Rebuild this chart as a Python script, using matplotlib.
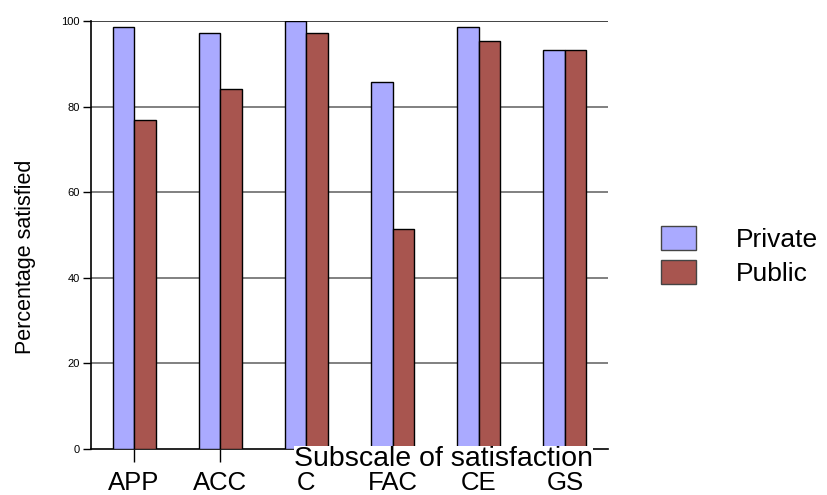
import matplotlib
matplotlib.use("Agg")
import matplotlib.pyplot as plt
import numpy as np
from matplotlib.patches import Patch

categories = ["APP", "ACC", "C", "FAC", "CE", "GS"]
private = [98.6, 97.2, 100.0, 85.7, 98.5, 93.2]
public = [76.8, 84.1, 97.3, 51.4, 95.4, 93.2]
series_names = ["Private", "Public"]
colors = ["#AAAAFF", "#A8554F"]

plt.rcParams['font.family'] = ['Liberation Sans', 'DejaVu Sans']

fig = plt.figure(figsize=(8.28, 4.95), dpi=100)
ax = fig.add_axes([91/828, 1-449/495, (608-91)/828, (449-21)/495])

x = np.arange(len(categories)) + 0.5
w = 0.25
for i, (vals, c) in enumerate(zip([private, public], colors)):
    xs = x - w/2 + i*w
    ax.bar(xs + 0.012, vals, w, color="#777777", zorder=2, linewidth=0)
    ax.bar(xs, vals, w, color=c, edgecolor="black", linewidth=1.0, zorder=3)

ax.set_xlim(0, 6)
ax.set_ylim(0, 100)
ax.set_yticks([0, 20, 40, 60, 80, 100])
ax.set_yticklabels(["0", "20", "40", "60", "80", "100"], fontsize=8)
for yv in [20, 40, 60, 80]:
    ax.axhline(yv, color="#808080", linewidth=1.4, zorder=1)
ax.axhline(100, color="#222222", linewidth=1.2, zorder=1)

ax.set_xticks(x)
ax.set_xticklabels(categories, fontsize=18.5)
ax.tick_params(axis='x', length=9.4, width=1, pad=6.5, direction='out')
ax.tick_params(axis='y', length=6, width=1, pad=2, direction='out')

for s in ["top", "right"]:
    ax.spines[s].set_visible(False)
ax.spines["left"].set_linewidth(1.2)
ax.spines["bottom"].set_linewidth(1.2)

ax.set_ylabel("Percentage satisfied", fontsize=15.5)
ax.yaxis.set_label_coords((36-91)/517, 0.45)

fig.text(443/828, 1-466/495, "Subscale of satisfaction", fontsize=20.5,
         ha="center", va="baseline",
         bbox=dict(facecolor="white", edgecolor="none", pad=0.0), zorder=10)

handles = [Patch(facecolor=c, edgecolor="#444444") for c in colors]
fig.legend(handles, series_names, loc="center left",
           bbox_to_anchor=(637/828, 1-256/495), frameon=False,
           fontsize=19, handlelength=1.35, handleheight=1.05,
           handletextpad=1.5, labelspacing=0.3)

fig.savefig("out.png", dpi=100)
